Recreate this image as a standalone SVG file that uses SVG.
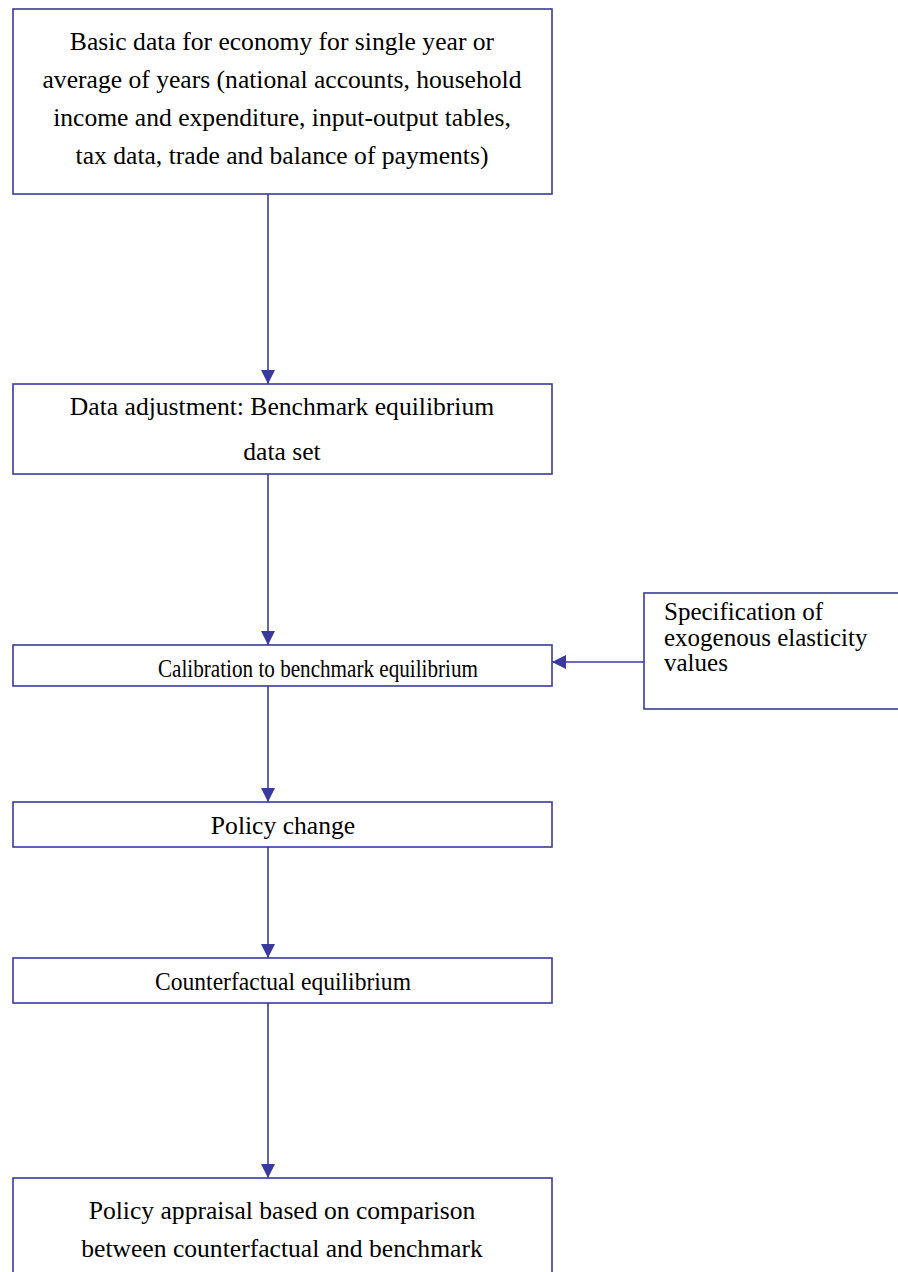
<svg xmlns="http://www.w3.org/2000/svg" width="898" height="1272" viewBox="0 0 898 1272">
<style>
.box{fill:#fff;stroke:#3a3a9e;stroke-width:1.6}
.t{font-family:"Liberation Serif",serif;font-size:25.6px;fill:#000;text-anchor:middle}
.tl{font-family:"Liberation Serif",serif;font-size:25px;fill:#000}
.c{stroke:#3a3a9e;stroke-width:1.6;fill:none}
</style>
<defs>
<marker id="ah" viewBox="0 0 10 10" refX="10" refY="5" markerWidth="15" markerHeight="14" markerUnits="userSpaceOnUse" orient="auto">
<path d="M0,0 L10,5 L0,10 Z" fill="#3a3a9e"/>
</marker>
</defs>
<rect width="898" height="1272" fill="#fff"/>
<g id="connectors">
<line class="c" x1="268" y1="194" x2="268" y2="384" marker-end="url(#ah)"/>
<line class="c" x1="268" y1="474" x2="268" y2="645" marker-end="url(#ah)"/>
<line class="c" x1="644" y1="662" x2="552" y2="662" marker-end="url(#ah)"/>
<line class="c" x1="268" y1="686" x2="268" y2="802" marker-end="url(#ah)"/>
<line class="c" x1="268" y1="847" x2="268" y2="958" marker-end="url(#ah)"/>
<line class="c" x1="268" y1="1003" x2="268" y2="1178" marker-end="url(#ah)"/>
</g>
<g id="n1">
<rect class="box" x="13" y="9" width="539" height="185"/>
<text class="t" x="282" y="50">Basic data for economy for single year or</text>
<text class="t" x="282" y="88">average of years (national accounts, household</text>
<text class="t" x="282" y="126">income and expenditure, input-output tables,</text>
<text class="t" x="282" y="164">tax data, trade and balance of payments)</text>
</g>
<g id="n2">
<rect class="box" x="13" y="384" width="539" height="90"/>
<text class="t" x="282" y="415">Data adjustment: Benchmark equilibrium</text>
<text class="t" x="282" y="460">data set</text>
</g>
<g id="n3">
<rect class="box" x="13" y="645" width="539" height="41"/>
<text class="t" x="318" y="677" textLength="320" lengthAdjust="spacingAndGlyphs">Calibration to benchmark equilibrium</text>
</g>
<g id="n4">
<rect class="box" x="644" y="593" width="262" height="116"/>
<text class="tl" x="664" y="620">Specification of</text>
<text class="tl" x="664" y="646">exogenous elasticity</text>
<text class="tl" x="664" y="671">values</text>
</g>
<g id="n5">
<rect class="box" x="13" y="802" width="539" height="45"/>
<text class="t" x="283" y="834">Policy change</text>
</g>
<g id="n6">
<rect class="box" x="13" y="958" width="539" height="45"/>
<text class="t" x="283" y="990" textLength="256" lengthAdjust="spacingAndGlyphs">Counterfactual equilibrium</text>
</g>
<g id="n7">
<rect class="box" x="13" y="1178" width="539" height="110"/>
<text class="t" x="282" y="1219">Policy appraisal based on comparison</text>
<text class="t" x="282" y="1257">between counterfactual and benchmark</text>
</g>
</svg>
